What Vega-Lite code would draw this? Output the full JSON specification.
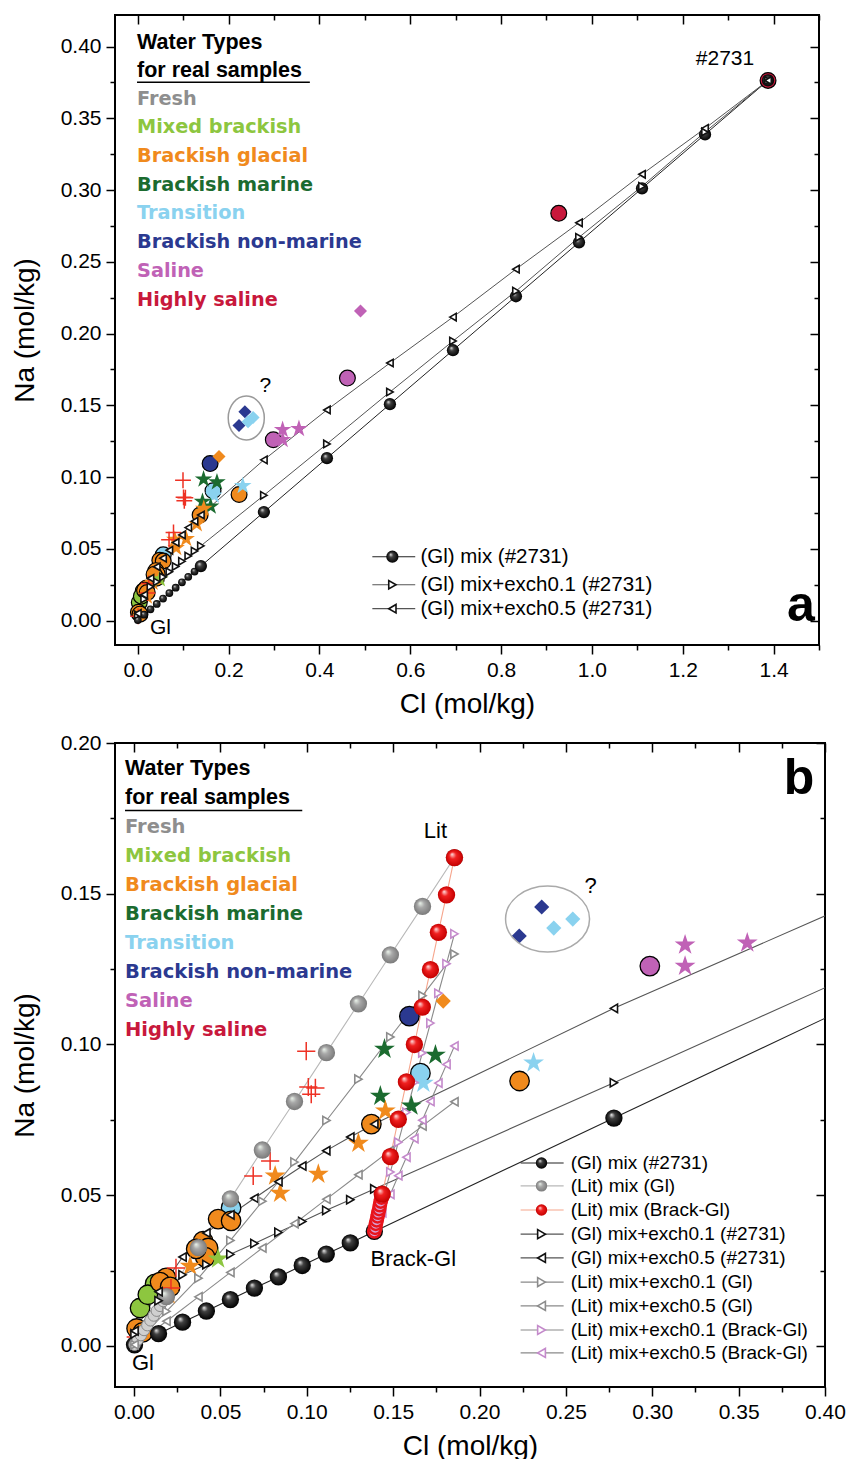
{
"$schema":"https://vega.github.io/schema/vega-lite/v6.json",
"background":"white",
"padding":{"left":10,"top":13,"right":5,"bottom":5},
"spacing":12,
"config":{
 "view":{"stroke":"black","strokeWidth":2},
 "font":"Liberation Sans",
 "axis":{"grid":false,"domain":false,"tickColor":"black","tickWidth":1.5,"labelColor":"black","titleColor":"black","labelFont":"Liberation Sans","titleFont":"Liberation Sans","labelFontSize":21,"titleFontSize":28,"titleFontWeight":"normal","labelFlush":false,"labelOverlap":false}
},
"datasets":{
 "samples":[
  {"type":"Transition","marker":"circle","Cl":0.0562,"Na":0.0458},
  {"type":"Brackish glacial","marker":"circle","Cl":0.2232,"Na":0.0879},
  {"type":"Brackish glacial","marker":"circle","Cl":0.1374,"Na":0.0736},
  {"type":"Brackish glacial","marker":"circle","Cl":0.0487,"Na":0.0421},
  {"type":"Brackish glacial","marker":"circle","Cl":0.0562,"Na":0.0415},
  {"type":"Brackish glacial","marker":"circle","Cl":0.0400,"Na":0.0348},
  {"type":"Brackish glacial","marker":"circle","Cl":0.0429,"Na":0.0325},
  {"type":"Brackish glacial","marker":"circle","Cl":0.0412,"Na":0.0295},
  {"type":"Brackish glacial","marker":"circle","Cl":0.0360,"Na":0.0322},
  {"type":"Mixed brackish","marker":"circle","Cl":0.0122,"Na":0.0206},
  {"type":"Mixed brackish","marker":"circle","Cl":0.0035,"Na":0.0126},
  {"type":"Mixed brackish","marker":"circle","Cl":0.0080,"Na":0.0170},
  {"type":"Brackish glacial","marker":"circle","Cl":0.0186,"Na":0.0226},
  {"type":"Brackish glacial","marker":"circle","Cl":0.0151,"Na":0.0212},
  {"type":"Brackish glacial","marker":"circle","Cl":0.0209,"Na":0.0196},
  {"type":"Brackish glacial","marker":"circle","Cl":0.0015,"Na":0.0058},
  {"type":"Brackish glacial","marker":"circle","Cl":0.0050,"Na":0.0045},
  {"type":"Transition","marker":"circle","Cl":0.1658,"Na":0.0905},
  {"type":"Brackish non-marine","marker":"circle","Cl":0.1594,"Na":0.1094},
  {"type":"Saline","marker":"circle","Cl":0.2986,"Na":0.1260},
  {"type":"Saline","marker":"circle","Cl":0.4617,"Na":0.1690},
  {"type":"Highly saline","marker":"circle","Cl":0.9270,"Na":0.2838},
  {"type":"Highly saline","marker":"circle","Cl":1.3878,"Na":0.3764},
  {"type":"Brackish glacial","marker":"diamond","Cl":0.1790,"Na":0.1144},
  {"type":"Brackish non-marine","marker":"diamond","Cl":0.2360,"Na":0.1456},
  {"type":"Brackish non-marine","marker":"diamond","Cl":0.2230,"Na":0.1360},
  {"type":"Transition","marker":"diamond","Cl":0.2430,"Na":0.1386},
  {"type":"Transition","marker":"diamond","Cl":0.2540,"Na":0.1416},
  {"type":"Saline","marker":"diamond","Cl":0.4905,"Na":0.2157},
  {"type":"Transition","marker":"star","Cl":0.2313,"Na":0.0939},
  {"type":"Transition","marker":"star","Cl":0.1675,"Na":0.0872},
  {"type":"Brackish marine","marker":"star","Cl":0.1450,"Na":0.0985},
  {"type":"Brackish marine","marker":"star","Cl":0.1745,"Na":0.0965},
  {"type":"Brackish marine","marker":"star","Cl":0.1426,"Na":0.0829},
  {"type":"Brackish marine","marker":"star","Cl":0.1606,"Na":0.0796},
  {"type":"Brackish glacial","marker":"star","Cl":0.1299,"Na":0.0673},
  {"type":"Brackish glacial","marker":"star","Cl":0.1067,"Na":0.0570},
  {"type":"Brackish glacial","marker":"star","Cl":0.0846,"Na":0.0507},
  {"type":"Brackish glacial","marker":"star","Cl":0.0817,"Na":0.0564},
  {"type":"Brackish glacial","marker":"star","Cl":0.1455,"Na":0.0780},
  {"type":"Brackish glacial","marker":"star","Cl":0.0325,"Na":0.0265},
  {"type":"Brackish glacial","marker":"star","Cl":0.0200,"Na":0.0170},
  {"type":"Mixed brackish","marker":"star","Cl":0.0487,"Na":0.0289},
  {"type":"Saline","marker":"star","Cl":0.3190,"Na":0.1330},
  {"type":"Saline","marker":"star","Cl":0.3190,"Na":0.1260},
  {"type":"Saline","marker":"star","Cl":0.3550,"Na":0.1337},
  {"type":"Other","marker":"cross","Cl":0.0997,"Na":0.0978},
  {"type":"Other","marker":"cross","Cl":0.1009,"Na":0.0859},
  {"type":"Other","marker":"cross","Cl":0.1026,"Na":0.0835},
  {"type":"Other","marker":"cross","Cl":0.1050,"Na":0.0856},
  {"type":"Other","marker":"cross","Cl":0.0788,"Na":0.0614},
  {"type":"Other","marker":"cross","Cl":0.0690,"Na":0.0564},
  {"type":"Other","marker":"cross","Cl":0.0243,"Na":0.0259},
  {"type":"Other","marker":"cross","Cl":0.0214,"Na":0.0192},
  {"type":"Other","marker":"cross","Cl":0.0010,"Na":0.0030}
 ],
 "models":[
  {"series":"(Gl) mix (#2731)","f":0,"Cl":0.0003,"Na":0.0004},
  {"series":"(Gl) mix (#2731)","f":0.01,"Cl":0.0142,"Na":0.0041},
  {"series":"(Gl) mix (#2731)","f":0.02,"Cl":0.0281,"Na":0.0079},
  {"series":"(Gl) mix (#2731)","f":0.03,"Cl":0.0419,"Na":0.0116},
  {"series":"(Gl) mix (#2731)","f":0.04,"Cl":0.0558,"Na":0.0154},
  {"series":"(Gl) mix (#2731)","f":0.05,"Cl":0.0697,"Na":0.0192},
  {"series":"(Gl) mix (#2731)","f":0.06,"Cl":0.0836,"Na":0.0229},
  {"series":"(Gl) mix (#2731)","f":0.07,"Cl":0.0974,"Na":0.0267},
  {"series":"(Gl) mix (#2731)","f":0.08,"Cl":0.1113,"Na":0.0305},
  {"series":"(Gl) mix (#2731)","f":0.09,"Cl":0.1252,"Na":0.0342},
  {"series":"(Gl) mix (#2731)","f":0.1,"Cl":0.1391,"Na":0.0380},
  {"series":"(Gl) mix (#2731)","f":0.2,"Cl":0.2778,"Na":0.0756},
  {"series":"(Gl) mix (#2731)","f":0.3,"Cl":0.4166,"Na":0.1132},
  {"series":"(Gl) mix (#2731)","f":0.4,"Cl":0.5553,"Na":0.1508},
  {"series":"(Gl) mix (#2731)","f":0.5,"Cl":0.6941,"Na":0.1884},
  {"series":"(Gl) mix (#2731)","f":0.6,"Cl":0.8328,"Na":0.2260},
  {"series":"(Gl) mix (#2731)","f":0.7,"Cl":0.9716,"Na":0.2636},
  {"series":"(Gl) mix (#2731)","f":0.8,"Cl":1.1103,"Na":0.3012},
  {"series":"(Gl) mix (#2731)","f":0.9,"Cl":1.2491,"Na":0.3388},
  {"series":"(Gl) mix (#2731)","f":1,"Cl":1.3878,"Na":0.3764},
  {"series":"(Gl) mix+exch0.1 (#2731)","f":0,"Cl":0.0003,"Na":0.0040},
  {"series":"(Gl) mix+exch0.1 (#2731)","f":0.01,"Cl":0.0142,"Na":0.0150},
  {"series":"(Gl) mix+exch0.1 (#2731)","f":0.02,"Cl":0.0281,"Na":0.0236},
  {"series":"(Gl) mix+exch0.1 (#2731)","f":0.03,"Cl":0.0419,"Na":0.0270},
  {"series":"(Gl) mix+exch0.1 (#2731)","f":0.04,"Cl":0.0558,"Na":0.0304},
  {"series":"(Gl) mix+exch0.1 (#2731)","f":0.05,"Cl":0.0697,"Na":0.0340},
  {"series":"(Gl) mix+exch0.1 (#2731)","f":0.06,"Cl":0.0836,"Na":0.0377},
  {"series":"(Gl) mix+exch0.1 (#2731)","f":0.07,"Cl":0.0974,"Na":0.0413},
  {"series":"(Gl) mix+exch0.1 (#2731)","f":0.08,"Cl":0.1113,"Na":0.0450},
  {"series":"(Gl) mix+exch0.1 (#2731)","f":0.09,"Cl":0.1252,"Na":0.0485},
  {"series":"(Gl) mix+exch0.1 (#2731)","f":0.1,"Cl":0.1391,"Na":0.0521},
  {"series":"(Gl) mix+exch0.1 (#2731)","f":0.2,"Cl":0.2778,"Na":0.0873},
  {"series":"(Gl) mix+exch0.1 (#2731)","f":0.3,"Cl":0.4166,"Na":0.1231},
  {"series":"(Gl) mix+exch0.1 (#2731)","f":0.4,"Cl":0.5553,"Na":0.1593},
  {"series":"(Gl) mix+exch0.1 (#2731)","f":0.5,"Cl":0.6941,"Na":0.1948},
  {"series":"(Gl) mix+exch0.1 (#2731)","f":0.6,"Cl":0.8328,"Na":0.2296},
  {"series":"(Gl) mix+exch0.1 (#2731)","f":0.7,"Cl":0.9716,"Na":0.2671},
  {"series":"(Gl) mix+exch0.1 (#2731)","f":0.8,"Cl":1.1103,"Na":0.3026},
  {"series":"(Gl) mix+exch0.1 (#2731)","f":0.9,"Cl":1.2491,"Na":0.3405},
  {"series":"(Gl) mix+exch0.1 (#2731)","f":1,"Cl":1.3878,"Na":0.3764},
  {"series":"(Gl) mix+exch0.5 (#2731)","f":0,"Cl":0.0003,"Na":0.0050},
  {"series":"(Gl) mix+exch0.5 (#2731)","f":0.01,"Cl":0.0142,"Na":0.0180},
  {"series":"(Gl) mix+exch0.5 (#2731)","f":0.02,"Cl":0.0281,"Na":0.0295},
  {"series":"(Gl) mix+exch0.5 (#2731)","f":0.03,"Cl":0.0419,"Na":0.0375},
  {"series":"(Gl) mix+exch0.5 (#2731)","f":0.04,"Cl":0.0558,"Na":0.0435},
  {"series":"(Gl) mix+exch0.5 (#2731)","f":0.05,"Cl":0.0697,"Na":0.0490},
  {"series":"(Gl) mix+exch0.5 (#2731)","f":0.06,"Cl":0.0836,"Na":0.0545},
  {"series":"(Gl) mix+exch0.5 (#2731)","f":0.07,"Cl":0.0974,"Na":0.0597},
  {"series":"(Gl) mix+exch0.5 (#2731)","f":0.08,"Cl":0.1113,"Na":0.0648},
  {"series":"(Gl) mix+exch0.5 (#2731)","f":0.09,"Cl":0.1252,"Na":0.0693},
  {"series":"(Gl) mix+exch0.5 (#2731)","f":0.1,"Cl":0.1391,"Na":0.0736},
  {"series":"(Gl) mix+exch0.5 (#2731)","f":0.2,"Cl":0.2778,"Na":0.1120},
  {"series":"(Gl) mix+exch0.5 (#2731)","f":0.3,"Cl":0.4166,"Na":0.1468},
  {"series":"(Gl) mix+exch0.5 (#2731)","f":0.4,"Cl":0.5553,"Na":0.1795},
  {"series":"(Gl) mix+exch0.5 (#2731)","f":0.5,"Cl":0.6941,"Na":0.2115},
  {"series":"(Gl) mix+exch0.5 (#2731)","f":0.6,"Cl":0.8328,"Na":0.2449},
  {"series":"(Gl) mix+exch0.5 (#2731)","f":0.7,"Cl":0.9716,"Na":0.2772},
  {"series":"(Gl) mix+exch0.5 (#2731)","f":0.8,"Cl":1.1103,"Na":0.3110},
  {"series":"(Gl) mix+exch0.5 (#2731)","f":0.9,"Cl":1.2491,"Na":0.3430},
  {"series":"(Gl) mix+exch0.5 (#2731)","f":1,"Cl":1.3878,"Na":0.3764},
  {"series":"(Lit) mix (Gl)","f":0,"Cl":0.0003,"Na":0.0004},
  {"series":"(Lit) mix (Gl)","f":0.01,"Cl":0.0021,"Na":0.0020},
  {"series":"(Lit) mix (Gl)","f":0.02,"Cl":0.0040,"Na":0.0036},
  {"series":"(Lit) mix (Gl)","f":0.03,"Cl":0.0058,"Na":0.0053},
  {"series":"(Lit) mix (Gl)","f":0.04,"Cl":0.0077,"Na":0.0069},
  {"series":"(Lit) mix (Gl)","f":0.05,"Cl":0.0095,"Na":0.0085},
  {"series":"(Lit) mix (Gl)","f":0.06,"Cl":0.0114,"Na":0.0101},
  {"series":"(Lit) mix (Gl)","f":0.07,"Cl":0.0132,"Na":0.0117},
  {"series":"(Lit) mix (Gl)","f":0.08,"Cl":0.0151,"Na":0.0133},
  {"series":"(Lit) mix (Gl)","f":0.09,"Cl":0.0169,"Na":0.0149},
  {"series":"(Lit) mix (Gl)","f":0.1,"Cl":0.0188,"Na":0.0164},
  {"series":"(Lit) mix (Gl)","f":0.2,"Cl":0.0373,"Na":0.0326},
  {"series":"(Lit) mix (Gl)","f":0.3,"Cl":0.0558,"Na":0.0488},
  {"series":"(Lit) mix (Gl)","f":0.4,"Cl":0.0743,"Na":0.0650},
  {"series":"(Lit) mix (Gl)","f":0.5,"Cl":0.0929,"Na":0.0811},
  {"series":"(Lit) mix (Gl)","f":0.6,"Cl":0.1114,"Na":0.0973},
  {"series":"(Lit) mix (Gl)","f":0.7,"Cl":0.1299,"Na":0.1135},
  {"series":"(Lit) mix (Gl)","f":0.8,"Cl":0.1484,"Na":0.1297},
  {"series":"(Lit) mix (Gl)","f":0.9,"Cl":0.1670,"Na":0.1458},
  {"series":"(Lit) mix (Gl)","f":1,"Cl":0.1855,"Na":0.1620},
  {"series":"(Lit) mix (Brack-Gl)","f":0,"Cl":0.1391,"Na":0.0380},
  {"series":"(Lit) mix (Brack-Gl)","f":0.01,"Cl":0.1396,"Na":0.0392},
  {"series":"(Lit) mix (Brack-Gl)","f":0.02,"Cl":0.1400,"Na":0.0405},
  {"series":"(Lit) mix (Brack-Gl)","f":0.03,"Cl":0.1405,"Na":0.0417},
  {"series":"(Lit) mix (Brack-Gl)","f":0.04,"Cl":0.1410,"Na":0.0430},
  {"series":"(Lit) mix (Brack-Gl)","f":0.05,"Cl":0.1414,"Na":0.0442},
  {"series":"(Lit) mix (Brack-Gl)","f":0.06,"Cl":0.1419,"Na":0.0454},
  {"series":"(Lit) mix (Brack-Gl)","f":0.07,"Cl":0.1423,"Na":0.0467},
  {"series":"(Lit) mix (Brack-Gl)","f":0.08,"Cl":0.1428,"Na":0.0479},
  {"series":"(Lit) mix (Brack-Gl)","f":0.09,"Cl":0.1433,"Na":0.0492},
  {"series":"(Lit) mix (Brack-Gl)","f":0.1,"Cl":0.1437,"Na":0.0504},
  {"series":"(Lit) mix (Brack-Gl)","f":0.2,"Cl":0.1484,"Na":0.0628},
  {"series":"(Lit) mix (Brack-Gl)","f":0.3,"Cl":0.1530,"Na":0.0752},
  {"series":"(Lit) mix (Brack-Gl)","f":0.4,"Cl":0.1577,"Na":0.0876},
  {"series":"(Lit) mix (Brack-Gl)","f":0.5,"Cl":0.1623,"Na":0.1000},
  {"series":"(Lit) mix (Brack-Gl)","f":0.6,"Cl":0.1669,"Na":0.1124},
  {"series":"(Lit) mix (Brack-Gl)","f":0.7,"Cl":0.1716,"Na":0.1248},
  {"series":"(Lit) mix (Brack-Gl)","f":0.8,"Cl":0.1762,"Na":0.1372},
  {"series":"(Lit) mix (Brack-Gl)","f":0.9,"Cl":0.1809,"Na":0.1496},
  {"series":"(Lit) mix (Brack-Gl)","f":1,"Cl":0.1855,"Na":0.1620},
  {"series":"(Lit) mix+exch0.1 (Gl)","f":0,"Cl":0.0003,"Na":0.0004},
  {"series":"(Lit) mix+exch0.1 (Gl)","f":0.1,"Cl":0.0188,"Na":0.0115},
  {"series":"(Lit) mix+exch0.1 (Gl)","f":0.2,"Cl":0.0373,"Na":0.0225},
  {"series":"(Lit) mix+exch0.1 (Gl)","f":0.3,"Cl":0.0558,"Na":0.0350},
  {"series":"(Lit) mix+exch0.1 (Gl)","f":0.4,"Cl":0.0743,"Na":0.0480},
  {"series":"(Lit) mix+exch0.1 (Gl)","f":0.5,"Cl":0.0929,"Na":0.0610},
  {"series":"(Lit) mix+exch0.1 (Gl)","f":0.6,"Cl":0.1114,"Na":0.0748},
  {"series":"(Lit) mix+exch0.1 (Gl)","f":0.7,"Cl":0.1299,"Na":0.0885},
  {"series":"(Lit) mix+exch0.1 (Gl)","f":0.8,"Cl":0.1484,"Na":0.1025},
  {"series":"(Lit) mix+exch0.1 (Gl)","f":0.9,"Cl":0.1670,"Na":0.1162},
  {"series":"(Lit) mix+exch0.1 (Gl)","f":1,"Cl":0.1855,"Na":0.1300},
  {"series":"(Lit) mix+exch0.5 (Gl)","f":0,"Cl":0.0003,"Na":0.0004},
  {"series":"(Lit) mix+exch0.5 (Gl)","f":0.1,"Cl":0.0188,"Na":0.0082},
  {"series":"(Lit) mix+exch0.5 (Gl)","f":0.2,"Cl":0.0373,"Na":0.0163},
  {"series":"(Lit) mix+exch0.5 (Gl)","f":0.3,"Cl":0.0558,"Na":0.0244},
  {"series":"(Lit) mix+exch0.5 (Gl)","f":0.4,"Cl":0.0743,"Na":0.0325},
  {"series":"(Lit) mix+exch0.5 (Gl)","f":0.5,"Cl":0.0929,"Na":0.0406},
  {"series":"(Lit) mix+exch0.5 (Gl)","f":0.6,"Cl":0.1114,"Na":0.0487},
  {"series":"(Lit) mix+exch0.5 (Gl)","f":0.7,"Cl":0.1299,"Na":0.0568},
  {"series":"(Lit) mix+exch0.5 (Gl)","f":0.8,"Cl":0.1484,"Na":0.0649},
  {"series":"(Lit) mix+exch0.5 (Gl)","f":0.9,"Cl":0.1670,"Na":0.0730},
  {"series":"(Lit) mix+exch0.5 (Gl)","f":1,"Cl":0.1855,"Na":0.0810},
  {"series":"(Lit) mix+exch0.1 (Brack-Gl)","f":0,"Cl":0.1391,"Na":0.0380},
  {"series":"(Lit) mix+exch0.1 (Brack-Gl)","f":0.1,"Cl":0.1437,"Na":0.0479},
  {"series":"(Lit) mix+exch0.1 (Brack-Gl)","f":0.2,"Cl":0.1484,"Na":0.0577},
  {"series":"(Lit) mix+exch0.1 (Brack-Gl)","f":0.3,"Cl":0.1530,"Na":0.0676},
  {"series":"(Lit) mix+exch0.1 (Brack-Gl)","f":0.4,"Cl":0.1577,"Na":0.0775},
  {"series":"(Lit) mix+exch0.1 (Brack-Gl)","f":0.5,"Cl":0.1623,"Na":0.0874},
  {"series":"(Lit) mix+exch0.1 (Brack-Gl)","f":0.6,"Cl":0.1669,"Na":0.0972},
  {"series":"(Lit) mix+exch0.1 (Brack-Gl)","f":0.7,"Cl":0.1716,"Na":0.1071},
  {"series":"(Lit) mix+exch0.1 (Brack-Gl)","f":0.8,"Cl":0.1762,"Na":0.1170},
  {"series":"(Lit) mix+exch0.1 (Brack-Gl)","f":0.9,"Cl":0.1809,"Na":0.1268},
  {"series":"(Lit) mix+exch0.1 (Brack-Gl)","f":1,"Cl":0.1855,"Na":0.1367},
  {"series":"(Lit) mix+exch0.5 (Brack-Gl)","f":0,"Cl":0.1391,"Na":0.0380},
  {"series":"(Lit) mix+exch0.5 (Brack-Gl)","f":0.1,"Cl":0.1437,"Na":0.0442},
  {"series":"(Lit) mix+exch0.5 (Brack-Gl)","f":0.2,"Cl":0.1484,"Na":0.0503},
  {"series":"(Lit) mix+exch0.5 (Brack-Gl)","f":0.3,"Cl":0.1530,"Na":0.0565},
  {"series":"(Lit) mix+exch0.5 (Brack-Gl)","f":0.4,"Cl":0.1577,"Na":0.0626},
  {"series":"(Lit) mix+exch0.5 (Brack-Gl)","f":0.5,"Cl":0.1623,"Na":0.0688},
  {"series":"(Lit) mix+exch0.5 (Brack-Gl)","f":0.6,"Cl":0.1669,"Na":0.0749},
  {"series":"(Lit) mix+exch0.5 (Brack-Gl)","f":0.7,"Cl":0.1716,"Na":0.0811},
  {"series":"(Lit) mix+exch0.5 (Brack-Gl)","f":0.8,"Cl":0.1762,"Na":0.0872},
  {"series":"(Lit) mix+exch0.5 (Brack-Gl)","f":0.9,"Cl":0.1809,"Na":0.0934},
  {"series":"(Lit) mix+exch0.5 (Brack-Gl)","f":1,"Cl":0.1855,"Na":0.0995}
 ],
 "typesA":[
  {"type":"Fresh","Cl":-0.0015,"Na":0.3638},
  {"type":"Mixed brackish","Cl":-0.0015,"Na":0.3437},
  {"type":"Brackish glacial","Cl":-0.0015,"Na":0.3235},
  {"type":"Brackish marine","Cl":-0.0015,"Na":0.3033},
  {"type":"Transition","Cl":-0.0015,"Na":0.2838},
  {"type":"Brackish non-marine","Cl":-0.0015,"Na":0.2637},
  {"type":"Saline","Cl":-0.0015,"Na":0.2435},
  {"type":"Highly saline","Cl":-0.0015,"Na":0.2233}
 ],
 "typesB":[
  {"type":"Fresh","Cl":-0.0052,"Na":0.1721},
  {"type":"Mixed brackish","Cl":-0.0052,"Na":0.1625},
  {"type":"Brackish glacial","Cl":-0.0052,"Na":0.1529},
  {"type":"Brackish marine","Cl":-0.0052,"Na":0.1433},
  {"type":"Transition","Cl":-0.0052,"Na":0.1337},
  {"type":"Brackish non-marine","Cl":-0.0052,"Na":0.1240},
  {"type":"Saline","Cl":-0.0052,"Na":0.1144},
  {"type":"Highly saline","Cl":-0.0052,"Na":0.1048}
 ],
 "legA":[
  {"series":"(Gl) mix (#2731)","Na":0.0445},
  {"series":"(Gl) mix+exch0.1 (#2731)","Na":0.0250},
  {"series":"(Gl) mix+exch0.5 (#2731)","Na":0.0083}
 ],
 "legB":[
  {"series":"(Gl) mix (#2731)","Na":0.0607},
  {"series":"(Lit) mix (Gl)","Na":0.0531},
  {"series":"(Lit) mix (Brack-Gl)","Na":0.0451},
  {"series":"(Gl) mix+exch0.1 (#2731)","Na":0.0371},
  {"series":"(Gl) mix+exch0.5 (#2731)","Na":0.0292},
  {"series":"(Lit) mix+exch0.1 (Gl)","Na":0.0212},
  {"series":"(Lit) mix+exch0.5 (Gl)","Na":0.0133},
  {"series":"(Lit) mix+exch0.1 (Brack-Gl)","Na":0.0053},
  {"series":"(Lit) mix+exch0.5 (Brack-Gl)","Na":-0.0023}
 ]
},
"vconcat":[
 {
  "width":704,"height":630,
  "resolve":{"axis":{"x":"independent","y":"independent"}},
  "layer":[
   {"layer":[
    {"data":{"name":"models"},
     "transform":[{"filter":{"field":"series","oneOf":["(Gl) mix (#2731)","(Gl) mix+exch0.1 (#2731)","(Gl) mix+exch0.5 (#2731)"]}}],
     "mark":{"type":"line","strokeWidth":1},
     "encoding":{
      "x":{"field":"Cl","type":"quantitative","scale":{"domain":[-0.05,1.5],"nice":false,"zero":false},"axis":{"orient":"bottom","values":[0,0.2,0.4,0.6,0.8,1,1.2,1.4],"format":".1f","tickSize":9,"labelPadding":5,"title":"Cl (mol/kg)","titlePadding":10}},
      "y":{"field":"Na","type":"quantitative","scale":{"domain":[-0.017,0.422],"nice":false,"zero":false},"axis":{"orient":"left","values":[0,0.05,0.1,0.15,0.2,0.25,0.3,0.35,0.4],"format":".2f","tickSize":9,"labelPadding":5,"title":"Na (mol/kg)","titlePadding":21}},
      "color":{"field":"series","type":"nominal","legend":null,"scale":{"domain":["Fresh","Mixed brackish","Brackish glacial","Brackish marine","Transition","Brackish non-marine","Saline","Highly saline","Other","(Gl) mix (#2731)","(Lit) mix (Gl)","(Lit) mix (Brack-Gl)","(Gl) mix+exch0.1 (#2731)","(Gl) mix+exch0.5 (#2731)","(Lit) mix+exch0.1 (Gl)","(Lit) mix+exch0.5 (Gl)","(Lit) mix+exch0.1 (Brack-Gl)","(Lit) mix+exch0.5 (Brack-Gl)"],"range":["#8e8e8e","#8dc63f","#f08a1d","#1b6b2f","#8ad2ef","#2b3990","#c062b6","#c8183c","#ee3124","#222222","#b8b8b8","#f6a58c","#555555","#555555","#8a8a8a","#8a8a8a","#8a8a8a","#8a8a8a"]}},
      "detail":{"field":"series"},
      "order":{"field":"f","type":"quantitative"}
     }},
    {"data":{"name":"samples"},"transform":[{"filter":{"field":"marker","equal":"circle"}}],
     "mark":{"type":"point","shape":"circle","filled":true,"opacity":1,"stroke":"black","strokeWidth":1.2,"size":250},
     "encoding":{"x":{"field":"Cl","type":"quantitative"},"y":{"field":"Na","type":"quantitative"},"color":{"field":"type","type":"nominal","legend":null}}},
    {"data":{"name":"samples"},"transform":[{"filter":{"field":"marker","equal":"diamond"}}],
     "mark":{"type":"point","shape":"diamond","filled":true,"opacity":1,"size":170},
     "encoding":{"x":{"field":"Cl","type":"quantitative"},"y":{"field":"Na","type":"quantitative"},"color":{"field":"type","type":"nominal","legend":null}}},
    {"data":{"name":"samples"},"transform":[{"filter":{"field":"marker","equal":"star"}}],
     "mark":{"type":"point","shape":"M0,-1L0.2245,-0.309L0.9511,-0.309L0.3633,0.118L0.5878,0.809L0,0.382L-0.5878,0.809L-0.3633,0.118L-0.9511,-0.309L-0.2245,-0.309Z","filled":true,"opacity":1,"size":340},
     "encoding":{"x":{"field":"Cl","type":"quantitative"},"y":{"field":"Na","type":"quantitative"},"color":{"field":"type","type":"nominal","legend":null}}},
    {"data":{"name":"samples"},"transform":[{"filter":{"field":"marker","equal":"cross"}}],
     "mark":{"type":"point","shape":"M-1,0L1,0M0,-1L0,1","filled":false,"opacity":1,"strokeWidth":1.5,"size":250},
     "encoding":{"x":{"field":"Cl","type":"quantitative"},"y":{"field":"Na","type":"quantitative"},"color":{"field":"type","type":"nominal","legend":null}}},
    {"data":{"values":[{"Cl":0.239,"Na":0.1412}]},
     "mark":{"type":"point","shape":"M-0.82,0A0.82,1 0 1,0 0.82,0A0.82,1 0 1,0 -0.82,0Z","filled":false,"stroke":"#9a9a9a","strokeWidth":1.5,"size":1936,"opacity":1},
     "encoding":{"x":{"field":"Cl","type":"quantitative"},"y":{"field":"Na","type":"quantitative"}}},
    {"data":{"name":"models"},"transform":[{"filter":{"and":[{"field":"series","equal":"(Gl) mix (#2731)"},{"field":"f","lt":0.1}]}}],
     "mark":{"type":"point","shape":"circle","filled":true,"opacity":1,"size":60,"fill":{"gradient":"radial","x1":0.35,"y1":0.3,"r1":0,"x2":0.5,"y2":0.5,"r2":0.5,"stops":[{"offset":0,"color":"#f0f0f0"},{"offset":0.35,"color":"#404040"},{"offset":1,"color":"#000000"}]}},
     "encoding":{"x":{"field":"Cl","type":"quantitative"},"y":{"field":"Na","type":"quantitative"}}},
    {"data":{"name":"models"},"transform":[{"filter":{"and":[{"field":"series","equal":"(Gl) mix (#2731)"},{"field":"f","gte":0.1}]}}],
     "mark":{"type":"point","shape":"circle","filled":true,"opacity":1,"size":150,"fill":{"gradient":"radial","x1":0.35,"y1":0.3,"r1":0,"x2":0.5,"y2":0.5,"r2":0.5,"stops":[{"offset":0,"color":"#f0f0f0"},{"offset":0.35,"color":"#404040"},{"offset":1,"color":"#000000"}]}},
     "encoding":{"x":{"field":"Cl","type":"quantitative"},"y":{"field":"Na","type":"quantitative"}}},
    {"data":{"name":"models"},"transform":[{"filter":{"field":"series","oneOf":["(Gl) mix+exch0.1 (#2731)","(Gl) mix+exch0.5 (#2731)"]}}],
     "mark":{"type":"point","filled":true,"fill":"white","opacity":1,"strokeWidth":1.6,"size":55},
     "encoding":{"x":{"field":"Cl","type":"quantitative"},"y":{"field":"Na","type":"quantitative"},
      "shape":{"field":"series","type":"nominal","legend":null,"scale":{"domain":["(Gl) mix+exch0.1 (#2731)","(Gl) mix+exch0.5 (#2731)","(Lit) mix+exch0.1 (Gl)","(Lit) mix+exch0.5 (Gl)","(Lit) mix+exch0.1 (Brack-Gl)","(Lit) mix+exch0.5 (Brack-Gl)"],"range":["triangle-right","triangle-left","triangle-right","triangle-left","triangle-right","triangle-left"]}},
      "stroke":{"field":"series","type":"nominal","legend":null,"scale":{"domain":["(Gl) mix+exch0.1 (#2731)","(Gl) mix+exch0.5 (#2731)","(Lit) mix+exch0.1 (Gl)","(Lit) mix+exch0.5 (Gl)","(Lit) mix+exch0.1 (Brack-Gl)","(Lit) mix+exch0.5 (Brack-Gl)"],"range":["#111111","#111111","#8c8c8c","#8c8c8c","#c48acb","#c48acb"]}}}},
    {"data":{"values":[{"label":"#2731","Cl":1.293,"Na":0.391},{"label":"?","Cl":0.281,"Na":0.1635},{"label":"Gl","Cl":0.05,"Na":-0.005}]},
     "mark":{"type":"text","fontSize":21,"color":"black","align":"center","baseline":"middle"},
     "encoding":{"x":{"field":"Cl","type":"quantitative"},"y":{"field":"Na","type":"quantitative"},"text":{"field":"label"}}},
    {"data":{"values":[{"label":"a","Cl":1.4604,"Na":0.0104}]},
     "mark":{"type":"text","fontSize":50,"fontWeight":"bold","color":"black","align":"center","baseline":"middle"},
     "encoding":{"x":{"field":"Cl","type":"quantitative"},"y":{"field":"Na","type":"quantitative"},"text":{"field":"label"}}},
    {"data":{"values":[{"label":"Water Types","Cl":-0.0015,"Na":0.4028},{"label":"for real samples","Cl":-0.0015,"Na":0.3833}]},
     "mark":{"type":"text","fontSize":21.5,"fontWeight":"bold","color":"black","align":"left","baseline":"middle"},
     "encoding":{"x":{"field":"Cl","type":"quantitative"},"y":{"field":"Na","type":"quantitative"},"text":{"field":"label"}}},
    {"data":{"values":[{"Cl":-0.0015,"Cl2":0.379,"Na":0.3752}]},
     "mark":{"type":"rule","color":"black","strokeWidth":1.5},
     "encoding":{"x":{"field":"Cl","type":"quantitative"},"x2":{"field":"Cl2"},"y":{"field":"Na","type":"quantitative"}}},
    {"data":{"name":"typesA"},
     "mark":{"type":"text","font":"DejaVu Sans","fontSize":19.3,"fontWeight":"bold","align":"left","baseline":"middle"},
     "encoding":{"x":{"field":"Cl","type":"quantitative"},"y":{"field":"Na","type":"quantitative"},"text":{"field":"type"},"color":{"field":"type","type":"nominal","legend":null}}},
    {"data":{"name":"legA"},
     "mark":{"type":"rule","strokeWidth":1.2},
     "encoding":{"x":{"datum":0.5166},"x2":{"datum":0.611},"y":{"field":"Na","type":"quantitative"},"color":{"field":"series","type":"nominal","legend":null}}},
    {"data":{"name":"legA"},"transform":[{"filter":{"field":"series","equal":"(Gl) mix (#2731)"}}],
     "mark":{"type":"point","shape":"circle","filled":true,"opacity":1,"size":150,"fill":{"gradient":"radial","x1":0.35,"y1":0.3,"r1":0,"x2":0.5,"y2":0.5,"r2":0.5,"stops":[{"offset":0,"color":"#f0f0f0"},{"offset":0.35,"color":"#404040"},{"offset":1,"color":"#000000"}]}},
     "encoding":{"x":{"datum":0.5607},"y":{"field":"Na","type":"quantitative"}}},
    {"data":{"name":"legA"},"transform":[{"filter":{"field":"series","oneOf":["(Gl) mix+exch0.1 (#2731)","(Gl) mix+exch0.5 (#2731)"]}}],
     "mark":{"type":"point","filled":true,"fill":"white","opacity":1,"strokeWidth":1.6,"size":70},
     "encoding":{"x":{"datum":0.5607},"y":{"field":"Na","type":"quantitative"},"shape":{"field":"series","type":"nominal","legend":null},"stroke":{"field":"series","type":"nominal","legend":null}}},
    {"data":{"name":"legA"},
     "mark":{"type":"text","fontSize":20.5,"color":"black","align":"left","baseline":"middle"},
     "encoding":{"x":{"datum":0.6225},"y":{"field":"Na","type":"quantitative"},"text":{"field":"series"}}}
   ]},
   {"data":{"values":[{"Cl":0,"Na":0}]},"mark":{"type":"point","opacity":0},
    "encoding":{"x":{"field":"Cl","type":"quantitative","axis":{"orient":"bottom","values":[0.1,0.3,0.5,0.7,0.9,1.1,1.3,1.5],"labels":false,"tickSize":5,"title":null}},
     "y":{"field":"Na","type":"quantitative","axis":{"orient":"left","values":[0.025,0.075,0.125,0.175,0.225,0.275,0.325,0.375],"labels":false,"tickSize":5,"title":null}}}},
   {"data":{"values":[{"Cl":0,"Na":0}]},"mark":{"type":"point","opacity":0},
    "encoding":{"x":{"field":"Cl","type":"quantitative","axis":{"orient":"top","values":[0,0.2,0.4,0.6,0.8,1,1.2,1.4],"labels":false,"tickSize":-9,"title":null}},
     "y":{"field":"Na","type":"quantitative","axis":{"orient":"right","values":[0,0.05,0.1,0.15,0.2,0.25,0.3,0.35,0.4],"labels":false,"tickSize":-9,"title":null}}}},
   {"data":{"values":[{"Cl":0,"Na":0}]},"mark":{"type":"point","opacity":0},
    "encoding":{"x":{"field":"Cl","type":"quantitative","axis":{"orient":"top","values":[0.1,0.3,0.5,0.7,0.9,1.1,1.3,1.5],"labels":false,"tickSize":-5,"title":null}},
     "y":{"field":"Na","type":"quantitative","axis":{"orient":"right","values":[0.025,0.075,0.125,0.175,0.225,0.275,0.325,0.375],"labels":false,"tickSize":-5,"title":null}}}}
  ]
 },
 {
  "width":710,"height":644,
  "resolve":{"axis":{"x":"independent","y":"independent"}},
  "layer":[
   {"layer":[
    {"data":{"name":"models"},
     "mark":{"type":"line","strokeWidth":1.1,"clip":true},
     "encoding":{
      "x":{"field":"Cl","type":"quantitative","scale":{"domain":[-0.011,0.4],"nice":false,"zero":false},"axis":{"orient":"bottom","values":[0,0.05,0.1,0.15,0.2,0.25,0.3,0.35,0.4],"format":".2f","tickSize":9,"labelPadding":5,"title":"Cl (mol/kg)","titlePadding":10}},
      "y":{"field":"Na","type":"quantitative","scale":{"domain":[-0.0136,0.2],"nice":false,"zero":false},"axis":{"orient":"left","values":[0,0.05,0.1,0.15,0.2],"format":".2f","tickSize":9,"labelPadding":5,"title":"Na (mol/kg)","titlePadding":21}},
      "color":{"field":"series","type":"nominal","legend":null},
      "detail":{"field":"series"},
      "order":{"field":"f","type":"quantitative"}
     }},
    {"data":{"name":"samples"},"transform":[{"filter":{"field":"marker","equal":"circle"}}],
     "mark":{"type":"point","shape":"circle","filled":true,"opacity":1,"stroke":"black","strokeWidth":1.3,"size":380,"clip":true},
     "encoding":{"x":{"field":"Cl","type":"quantitative"},"y":{"field":"Na","type":"quantitative"},"color":{"field":"type","type":"nominal","legend":null}}},
    {"data":{"name":"samples"},"transform":[{"filter":{"field":"marker","equal":"diamond"}}],
     "mark":{"type":"point","shape":"diamond","filled":true,"opacity":1,"size":230,"clip":true},
     "encoding":{"x":{"field":"Cl","type":"quantitative"},"y":{"field":"Na","type":"quantitative"},"color":{"field":"type","type":"nominal","legend":null}}},
    {"data":{"name":"samples"},"transform":[{"filter":{"field":"marker","equal":"star"}}],
     "mark":{"type":"point","shape":"M0,-1L0.2245,-0.309L0.9511,-0.309L0.3633,0.118L0.5878,0.809L0,0.382L-0.5878,0.809L-0.3633,0.118L-0.9511,-0.309L-0.2245,-0.309Z","filled":true,"opacity":1,"size":480,"clip":true},
     "encoding":{"x":{"field":"Cl","type":"quantitative"},"y":{"field":"Na","type":"quantitative"},"color":{"field":"type","type":"nominal","legend":null}}},
    {"data":{"name":"samples"},"transform":[{"filter":{"field":"marker","equal":"cross"}}],
     "mark":{"type":"point","shape":"M-1,0L1,0M0,-1L0,1","filled":false,"opacity":1,"strokeWidth":1.5,"size":330,"clip":true},
     "encoding":{"x":{"field":"Cl","type":"quantitative"},"y":{"field":"Na","type":"quantitative"},"color":{"field":"type","type":"nominal","legend":null}}},
    {"data":{"values":[{"Cl":0.2394,"Na":0.1416}]},
     "mark":{"type":"point","shape":"M-1,0A1,0.786 0 1,0 1,0A1,0.786 0 1,0 -1,0Z","filled":false,"stroke":"#aaaaaa","strokeWidth":1.5,"size":7056,"opacity":1},
     "encoding":{"x":{"field":"Cl","type":"quantitative"},"y":{"field":"Na","type":"quantitative"}}},
    {"data":{"name":"models"},"transform":[{"filter":{"field":"series","equal":"(Gl) mix (#2731)"}}],
     "mark":{"type":"point","shape":"circle","filled":true,"opacity":1,"size":300,"clip":true,"fill":{"gradient":"radial","x1":0.35,"y1":0.3,"r1":0,"x2":0.5,"y2":0.5,"r2":0.5,"stops":[{"offset":0,"color":"#f0f0f0"},{"offset":0.35,"color":"#404040"},{"offset":1,"color":"#000000"}]}},
     "encoding":{"x":{"field":"Cl","type":"quantitative"},"y":{"field":"Na","type":"quantitative"}}},
    {"data":{"name":"models"},"transform":[{"filter":{"and":[{"field":"series","equal":"(Lit) mix (Gl)"},{"field":"f","lt":0.1}]}}],
     "mark":{"type":"point","shape":"circle","filled":true,"opacity":1,"size":130,"stroke":"#8a8a8a","strokeWidth":1,"fill":"#d0d0d0"},
     "encoding":{"x":{"field":"Cl","type":"quantitative"},"y":{"field":"Na","type":"quantitative"}}},
    {"data":{"name":"models"},"transform":[{"filter":{"and":[{"field":"series","equal":"(Lit) mix (Gl)"},{"field":"f","gte":0.1}]}}],
     "mark":{"type":"point","shape":"circle","filled":true,"opacity":1,"size":300,"fill":{"gradient":"radial","x1":0.35,"y1":0.3,"r1":0,"x2":0.5,"y2":0.5,"r2":0.5,"stops":[{"offset":0,"color":"#eef7ee"},{"offset":0.4,"color":"#a8a8a8"},{"offset":1,"color":"#7a7a7a"}]}},
     "encoding":{"x":{"field":"Cl","type":"quantitative"},"y":{"field":"Na","type":"quantitative"}}},
    {"data":{"name":"models"},"transform":[{"filter":{"field":"series","oneOf":["(Gl) mix+exch0.1 (#2731)","(Gl) mix+exch0.5 (#2731)","(Lit) mix+exch0.1 (Gl)","(Lit) mix+exch0.5 (Gl)","(Lit) mix+exch0.1 (Brack-Gl)","(Lit) mix+exch0.5 (Brack-Gl)"]}}],
     "mark":{"type":"point","filled":true,"fill":"white","opacity":1,"strokeWidth":1.6,"size":70,"clip":true},
     "encoding":{"x":{"field":"Cl","type":"quantitative"},"y":{"field":"Na","type":"quantitative"},"shape":{"field":"series","type":"nominal","legend":null},"stroke":{"field":"series","type":"nominal","legend":null}}},
    {"data":{"name":"models"},"transform":[{"filter":{"and":[{"field":"series","equal":"(Lit) mix (Brack-Gl)"},{"field":"f","lt":0.1}]}}],
     "mark":{"type":"point","shape":"circle","filled":true,"opacity":1,"size":150,"stroke":"#e8141c","strokeWidth":2.5,"fill":"#d7a0d3"},
     "encoding":{"x":{"field":"Cl","type":"quantitative"},"y":{"field":"Na","type":"quantitative"}}},
    {"data":{"name":"models"},"transform":[{"filter":{"and":[{"field":"series","equal":"(Lit) mix (Brack-Gl)"},{"field":"f","gte":0.1}]}}],
     "mark":{"type":"point","shape":"circle","filled":true,"opacity":1,"size":300,"fill":{"gradient":"radial","x1":0.35,"y1":0.3,"r1":0,"x2":0.5,"y2":0.5,"r2":0.5,"stops":[{"offset":0,"color":"#ffe8e8"},{"offset":0.4,"color":"#f02020"},{"offset":1,"color":"#c40000"}]}},
     "encoding":{"x":{"field":"Cl","type":"quantitative"},"y":{"field":"Na","type":"quantitative"}}},
    {"data":{"values":[{"label":"Lit","Cl":0.1745,"Na":0.1708},{"label":"?","Cl":0.2643,"Na":0.1525},{"label":"Brack-Gl","Cl":0.1617,"Na":0.0289},{"label":"Gl","Cl":0.0052,"Na":-0.0056}]},
     "mark":{"type":"text","fontSize":22,"color":"black","align":"center","baseline":"middle"},
     "encoding":{"x":{"field":"Cl","type":"quantitative"},"y":{"field":"Na","type":"quantitative"},"text":{"field":"label"}}},
    {"data":{"values":[{"label":"b","Cl":0.3849,"Na":0.188}]},
     "mark":{"type":"text","fontSize":50,"fontWeight":"bold","color":"black","align":"center","baseline":"middle"},
     "encoding":{"x":{"field":"Cl","type":"quantitative"},"y":{"field":"Na","type":"quantitative"},"text":{"field":"label"}}},
    {"data":{"values":[{"label":"Water Types","Cl":-0.0052,"Na":0.1914},{"label":"for real samples","Cl":-0.0052,"Na":0.1818}]},
     "mark":{"type":"text","fontSize":21.5,"fontWeight":"bold","color":"black","align":"left","baseline":"middle"},
     "encoding":{"x":{"field":"Cl","type":"quantitative"},"y":{"field":"Na","type":"quantitative"},"text":{"field":"label"}}},
    {"data":{"values":[{"Cl":-0.0052,"Cl2":0.0974,"Na":0.1776}]},
     "mark":{"type":"rule","color":"black","strokeWidth":1.5},
     "encoding":{"x":{"field":"Cl","type":"quantitative"},"x2":{"field":"Cl2"},"y":{"field":"Na","type":"quantitative"}}},
    {"data":{"name":"typesB"},
     "mark":{"type":"text","font":"DejaVu Sans","fontSize":19.5,"fontWeight":"bold","align":"left","baseline":"middle"},
     "encoding":{"x":{"field":"Cl","type":"quantitative"},"y":{"field":"Na","type":"quantitative"},"text":{"field":"type"},"color":{"field":"type","type":"nominal","legend":null}}},
    {"data":{"name":"legB"},
     "mark":{"type":"rule","strokeWidth":1.2},
     "encoding":{"x":{"datum":0.2238},"x2":{"datum":0.2487},"y":{"field":"Na","type":"quantitative"},"color":{"field":"series","type":"nominal","legend":null}}},
    {"data":{"name":"legB"},"transform":[{"filter":{"field":"series","equal":"(Gl) mix (#2731)"}}],
     "mark":{"type":"point","shape":"circle","filled":true,"opacity":1,"size":130,"fill":{"gradient":"radial","x1":0.35,"y1":0.3,"r1":0,"x2":0.5,"y2":0.5,"r2":0.5,"stops":[{"offset":0,"color":"#f0f0f0"},{"offset":0.35,"color":"#404040"},{"offset":1,"color":"#000000"}]}},
     "encoding":{"x":{"datum":0.2359},"y":{"field":"Na","type":"quantitative"}}},
    {"data":{"name":"legB"},"transform":[{"filter":{"field":"series","equal":"(Lit) mix (Gl)"}}],
     "mark":{"type":"point","shape":"circle","filled":true,"opacity":1,"size":130,"fill":{"gradient":"radial","x1":0.35,"y1":0.3,"r1":0,"x2":0.5,"y2":0.5,"r2":0.5,"stops":[{"offset":0,"color":"#eef7ee"},{"offset":0.4,"color":"#a8a8a8"},{"offset":1,"color":"#7a7a7a"}]}},
     "encoding":{"x":{"datum":0.2359},"y":{"field":"Na","type":"quantitative"}}},
    {"data":{"name":"legB"},"transform":[{"filter":{"field":"series","equal":"(Lit) mix (Brack-Gl)"}}],
     "mark":{"type":"point","shape":"circle","filled":true,"opacity":1,"size":130,"fill":{"gradient":"radial","x1":0.35,"y1":0.3,"r1":0,"x2":0.5,"y2":0.5,"r2":0.5,"stops":[{"offset":0,"color":"#ffe8e8"},{"offset":0.4,"color":"#f02020"},{"offset":1,"color":"#c40000"}]}},
     "encoding":{"x":{"datum":0.2359},"y":{"field":"Na","type":"quantitative"}}},
    {"data":{"name":"legB"},"transform":[{"filter":{"field":"series","oneOf":["(Gl) mix+exch0.1 (#2731)","(Gl) mix+exch0.5 (#2731)","(Lit) mix+exch0.1 (Gl)","(Lit) mix+exch0.5 (Gl)","(Lit) mix+exch0.1 (Brack-Gl)","(Lit) mix+exch0.5 (Brack-Gl)"]}}],
     "mark":{"type":"point","filled":true,"fill":"white","opacity":1,"strokeWidth":1.6,"size":80},
     "encoding":{"x":{"datum":0.2359},"y":{"field":"Na","type":"quantitative"},"shape":{"field":"series","type":"nominal","legend":null},"stroke":{"field":"series","type":"nominal","legend":null}}},
    {"data":{"name":"legB"},
     "mark":{"type":"text","fontSize":19,"color":"black","align":"left","baseline":"middle"},
     "encoding":{"x":{"datum":0.2528},"y":{"field":"Na","type":"quantitative"},"text":{"field":"series"}}}
   ]},
   {"data":{"values":[{"Cl":0,"Na":0}]},"mark":{"type":"point","opacity":0},
    "encoding":{"x":{"field":"Cl","type":"quantitative","axis":{"orient":"bottom","values":[0.025,0.075,0.125,0.175,0.225,0.275,0.325,0.375],"labels":false,"tickSize":5,"title":null}},
     "y":{"field":"Na","type":"quantitative","axis":{"orient":"left","values":[0.025,0.075,0.125,0.175],"labels":false,"tickSize":5,"title":null}}}},
   {"data":{"values":[{"Cl":0,"Na":0}]},"mark":{"type":"point","opacity":0},
    "encoding":{"x":{"field":"Cl","type":"quantitative","axis":{"orient":"top","values":[0,0.05,0.1,0.15,0.2,0.25,0.3,0.35,0.4],"labels":false,"tickSize":-9,"title":null}},
     "y":{"field":"Na","type":"quantitative","axis":{"orient":"right","values":[0,0.05,0.1,0.15,0.2],"labels":false,"tickSize":-9,"title":null}}}},
   {"data":{"values":[{"Cl":0,"Na":0}]},"mark":{"type":"point","opacity":0},
    "encoding":{"x":{"field":"Cl","type":"quantitative","axis":{"orient":"top","values":[0.025,0.075,0.125,0.175,0.225,0.275,0.325,0.375],"labels":false,"tickSize":-5,"title":null}},
     "y":{"field":"Na","type":"quantitative","axis":{"orient":"right","values":[0.025,0.075,0.125,0.175],"labels":false,"tickSize":-5,"title":null}}}}
  ]
 }
]
}
